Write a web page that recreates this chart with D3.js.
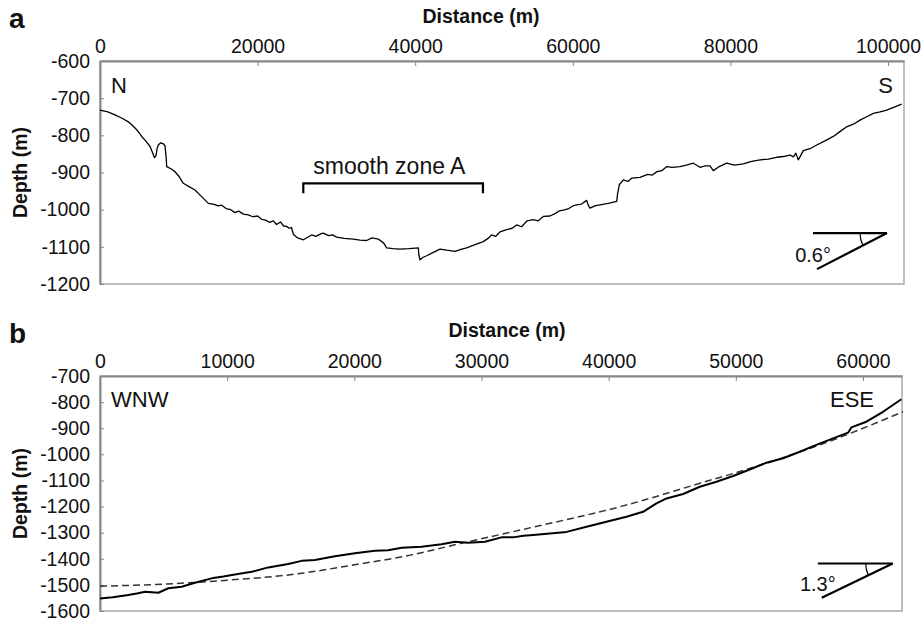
<!DOCTYPE html>
<html>
<head>
<meta charset="utf-8">
<script src="https://cdn.jsdelivr.net/npm/d3@7"></script>
<style>
  body { margin: 0; background: #fff; }
  svg text { font-family: Arial, "Liberation Sans", sans-serif; fill: #111; }
  .axis path, .axis line { stroke: #888; }
  .axis text { font-size: 19.5px; fill: #111; }
</style>
</head>
<body>
<div id="graphicContainer"></div>
<script>

// panel a : N-S profile
var distA = [0,1000,1900,2800,3550,4200,4660,5000,5290,5800,6350,6700,6900,7100,7250,7400,7700,8000,8250,8400,8460,9000,9520,10000,10570,11300,12050,12900,13750,14500,15000,15440,16000,16600,17130,17600,18200,18820,19400,20000,20510,21000,21500,22000,22400,22900,23300,23680,24000,24300,24530,25000,25800,26300,26860,27400,28000,28340,29000,29500,30030,31000,32140,33000,33840,34500,35320,36000,36380,37200,38070,39200,40400,40450,40610,41000,41460,42300,43150,44000,45050,45800,46530,47500,48640,49200,49700,50200,50760,51610,52300,52880,53500,54200,54990,55600,56300,57110,57800,58300,58790,59500,60000,60490,61100,61760,62000,62180,62800,63450,64500,65570,65700,65900,66410,67000,67500,68530,69500,70100,70650,71300,71920,72600,73600,74400,75300,76140,76800,77410,77830,78500,79530,80500,81640,82700,83760,84800,85870,86700,87560,88000,88300,88620,89250,90100,90950,92000,93060,93900,94750,95600,96450,97300,98140,99000,99830,100800,101730]
var depthA = [-732,-737,-745,-754,-763,-775,-785,-794,-803,-815,-830,-848,-860,-855,-835,-826,-820,-822,-828,-860,-884,-890,-898,-910,-929,-938,-947,-965,-983,-986,-990,-988,-997,-1000,-1008,-1004,-1012,-1014,-1019,-1017,-1026,-1028,-1034,-1030,-1040,-1033,-1044,-1045,-1050,-1048,-1066,-1075,-1081,-1075,-1068,-1072,-1065,-1063,-1070,-1068,-1074,-1077,-1079,-1082,-1083,-1076,-1079,-1090,-1103,-1105,-1106,-1105,-1103,-1120,-1135,-1128,-1124,-1115,-1106,-1109,-1112,-1107,-1103,-1095,-1086,-1078,-1068,-1072,-1060,-1054,-1050,-1041,-1046,-1030,-1027,-1030,-1018,-1017,-1010,-1003,-1001,-997,-990,-987,-985,-975,-990,-996,-990,-987,-983,-978,-955,-933,-920,-924,-915,-913,-905,-907,-898,-895,-884,-886,-884,-880,-875,-886,-882,-882,-895,-885,-875,-880,-877,-870,-866,-864,-859,-857,-853,-858,-848,-866,-841,-836,-826,-815,-803,-790,-777,-770,-759,-750,-741,-737,-732,-724,-716]

// panel b : WNW-ESE profile and fitted curve
var distB = [0,1000,2230,3000,3540,4590,5370,6420,7470,8780,9700,10610,11930,13230,14800,15860,16900,18470,20050,21620,22660,23720,25290,26860,27910,28950,30270,31580,32490,33300,34070,35380,36690,38260,39830,41400,42710,43760,44550,45860,47170,48480,49790,51100,52410,53720,55030,56340,57650,58830,59090,60270,61580,63020]
var depthB = [-1552,-1547,-1539,-1532,-1526,-1530,-1513,-1507,-1492,-1475,-1468,-1460,-1450,-1433,-1420,-1408,-1405,-1390,-1379,-1369,-1367,-1358,-1354,-1344,-1335,-1339,-1335,-1318,-1318,-1312,-1309,-1303,-1297,-1277,-1258,-1239,-1220,-1188,-1169,-1152,-1124,-1105,-1083,-1058,-1032,-1015,-990,-964,-939,-917,-897,-875,-837,-789]
var fitDistB = [0,5000,10000,15330,19900,24400,28300,34040,40880,47170,52410,57650,63150]
var fitDepthB = [-1505,-1497,-1482,-1459,-1424,-1386,-1342,-1279,-1201,-1111,-1034,-945,-837]

var xTicksA = [0,20000,40000,60000,80000,100000]
var yTicksA = [-600,-700,-800,-900,-1000,-1100,-1200]
var xTicksB = [0,10000,20000,30000,40000,50000,60000]
var yTicksB = [-700,-800,-900,-1000,-1100,-1200,-1300,-1400,-1500,-1600]

var zoneA = { label: "smooth zone A", from: 25800, to: 48600, depth: -929 }

var svg = d3.select("#graphicContainer").append("svg")
  .attr("width", 923)
  .attr("height", 623)

function panel(p) {

  var x = d3.scaleLinear().domain(p.xDomain).range([p.left, p.right])
  var y = d3.scaleLinear().domain(p.yDomain).range([p.bottom, p.top])

  var g = svg.append("g")

  g.append("rect")
    .attr("x", p.left)
    .attr("y", p.top)
    .attr("width", p.right - p.left)
    .attr("height", p.bottom - p.top)
    .attr("fill", "none")
    .attr("stroke", "#a8a8a8")
    .attr("stroke-width", 1.5)

  g.append("g")
    .attr("class", "axis")
    .attr("transform", `translate(0,${p.top})`)
    .call(d3.axisTop(x).tickValues(p.xTicks).tickSize(-5).tickSizeOuter(0).tickPadding(8).tickFormat(d3.format("d")))
    .call(a => a.select(".domain").attr("stroke-width", 2))

  g.append("g")
    .attr("class", "axis")
    .attr("transform", `translate(${p.left},0)`)
    .call(d3.axisLeft(y).tickValues(p.yTicks).tickSize(-4).tickSizeOuter(0).tickPadding(10).tickFormat(d => d3.format("d")(d).replace("−", "-")))
    .call(a => a.select(".domain").attr("stroke-width", 2))

  g.append("text")
    .attr("x", 9)
    .attr("y", p.letterY)
    .attr("font-size", 28)
    .attr("font-weight", "bold")
    .text(p.letter)

  g.append("text")
    .attr("x", p.titleX)
    .attr("y", p.titleY)
    .attr("text-anchor", "middle")
    .attr("font-size", 19.5)
    .attr("font-weight", "bold")
    .text("Distance (m)")

  g.append("text")
    .attr("transform", `translate(27,${(p.top + p.bottom) / 2}) rotate(-90)`)
    .attr("text-anchor", "middle")
    .attr("font-size", 19.5)
    .attr("font-weight", "bold")
    .text("Depth (m)")

  g.append("text")
    .attr("x", p.left + 11)
    .attr("y", p.top + p.dirY)
    .attr("font-size", 22)
    .text(p.dirLeft)

  g.append("text")
    .attr("x", p.dirRightX)
    .attr("y", p.top + p.dirY)
    .attr("text-anchor", "end")
    .attr("font-size", 22)
    .text(p.dirRight)

  if (p.fit) {
    g.append("path")
      .datum(p.fit)
      .attr("fill", "none")
      .attr("stroke", "#333")
      .attr("stroke-width", 1.5)
      .attr("stroke-dasharray", "7,4")
      .attr("d", d3.line().curve(d3.curveMonotoneX).x(d => x(d[0])).y(d => y(d[1])))
  }

  g.append("path")
    .datum(p.profile)
    .attr("fill", "none")
    .attr("stroke", "#000")
    .attr("stroke-width", p.lineWidth)
    .attr("stroke-linejoin", "round")
    .attr("d", d3.line().x(d => x(d[0])).y(d => y(d[1])))

  // slope symbol
  var s = p.slope
  var ax = x(s.apex[0]), ay = y(s.apex[1])
  var hx = x(s.horiz[0])
  var lx = x(s.low[0]), ly = y(s.low[1])

  g.append("line")
    .attr("x1", hx).attr("y1", ay).attr("x2", ax).attr("y2", ay)
    .attr("stroke", "#000").attr("stroke-width", 2.2)

  g.append("line")
    .attr("x1", lx).attr("y1", ly).attr("x2", ax).attr("y2", ay)
    .attr("stroke", "#000").attr("stroke-width", 2.2)

  var ang = Math.atan2(ly - ay, lx - ax)
  var r = 27
  g.append("path")
    .attr("d", `M${ax - r},${ay} A${r},${r} 0 0 0 ${ax + r * Math.cos(ang)},${ay + r * Math.sin(ang)}`)
    .attr("fill", "none")
    .attr("stroke", "#000")
    .attr("stroke-width", 1.2)

  g.append("text")
    .attr("x", lx + 14)
    .attr("y", ly - 7)
    .attr("text-anchor", "end")
    .attr("font-size", 20)
    .text(s.label)

  return { x: x, y: y, g: g }
}

var pa = panel({
  letter: "a", letterY: 28,
  left: 100, right: 904, top: 61, bottom: 284,
  xDomain: [0, 102030], yDomain: [-1200, -600],
  xTicks: xTicksA, yTicks: yTicksA,
  titleX: 481, titleY: 23,
  dirLeft: "N", dirRight: "S", dirY: 32, dirRightX: 893,
  profile: distA.map((d, i) => [d, depthA[i]]),
  lineWidth: 1.3,
  slope: { apex: [99870, -1063], horiz: [90480], low: [90990, -1160], label: "0.6°" }
})

var pb = panel({
  letter: "b", letterY: 343,
  left: 100, right: 902, top: 376, bottom: 611,
  xDomain: [0, 63070], yDomain: [-1600, -700],
  xTicks: xTicksB, yTicks: yTicksB,
  titleX: 507, titleY: 337,
  dirLeft: "WNW", dirRight: "ESE", dirY: 31, dirRightX: 874,
  profile: distB.map((d, i) => [d, depthB[i]]),
  fit: fitDistB.map((d, i) => [d, fitDepthB[i]]),
  lineWidth: 2,
  slope: { apex: [62340, -1418], horiz: [56450], low: [56760, -1549], label: "1.3°" }
})

// smooth zone bracket
var zx0 = pa.x(zoneA.from), zx1 = pa.x(zoneA.to), zy = pa.y(zoneA.depth)
pa.g.append("path")
  .attr("d", `M${zx0},${zy + 10}V${zy}H${zx1}V${zy + 10}`)
  .attr("fill", "none")
  .attr("stroke", "#000")
  .attr("stroke-width", 2.2)

pa.g.append("text")
  .attr("x", zx0 + 10)
  .attr("y", zy - 9)
  .attr("font-size", 23)
  .text(zoneA.label)

</script>
</body>
</html>
